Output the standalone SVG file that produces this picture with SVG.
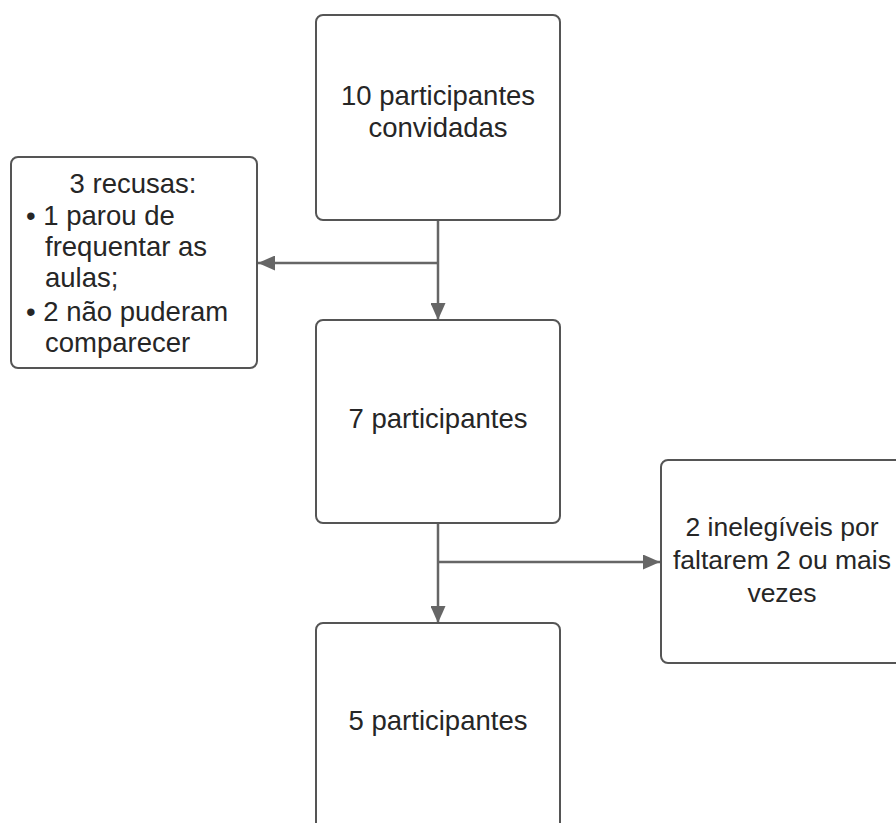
<svg xmlns="http://www.w3.org/2000/svg" width="896" height="823" viewBox="0 0 896 823">
<defs>
<style>
.box{fill:#fff;stroke:#555;stroke-width:2}
.t{font-family:"Liberation Sans",Arial,sans-serif;font-size:27.5px;fill:#262626}
.s{font-size:26.5px}
.c{text-anchor:middle}
.ln{stroke:#666;stroke-width:2.5;fill:none}
</style>
<marker id="ah" viewBox="0 0 17 15" refX="17" refY="7.5" markerWidth="17" markerHeight="15" markerUnits="userSpaceOnUse" orient="auto">
<path d="M0,0 L17,7.5 L0,15 Z" fill="#666"/>
</marker>
</defs>
<rect width="896" height="823" fill="#fff"/>
<g id="connectors">
<path class="ln" d="M438,220 V320" marker-end="url(#ah)"/>
<path class="ln" d="M438,263 H258" marker-end="url(#ah)"/>
<path class="ln" d="M438,523 V623" marker-end="url(#ah)"/>
<path class="ln" d="M438,562 H660" marker-end="url(#ah)"/>
</g>
<g id="n1">
<rect class="box" x="316" y="15" width="244" height="205" rx="7"/>
<text class="t c" x="438" y="105">10 participantes</text>
<text class="t c" x="438" y="137">convidadas</text>
</g>
<g id="n2">
<rect class="box" x="11" y="157" width="246" height="211" rx="7"/>
<text class="t c" x="133" y="193">3 recusas:</text>
<text class="t" x="26" y="225">• 1 parou de</text>
<text class="t" x="45" y="256">frequentar as</text>
<text class="t" x="45" y="287">aulas;</text>
<text class="t" x="26" y="321">• 2 não puderam</text>
<text class="t" x="45" y="352">comparecer</text>
</g>
<g id="n3">
<rect class="box" x="316" y="320" width="244" height="203" rx="7"/>
<text class="t c" x="438" y="428">7 participantes</text>
</g>
<g id="n4">
<rect class="box" x="661" y="460" width="250" height="203" rx="7"/>
<text class="t s c" x="782" y="536">2 inelegíveis por</text>
<text class="t s c" x="782" y="569">faltarem 2 ou mais</text>
<text class="t s c" x="782" y="602">vezes</text>
</g>
<g id="n5">
<rect class="box" x="316" y="623" width="244" height="220" rx="7"/>
<text class="t c" x="438" y="730">5 participantes</text>
</g>
</svg>
